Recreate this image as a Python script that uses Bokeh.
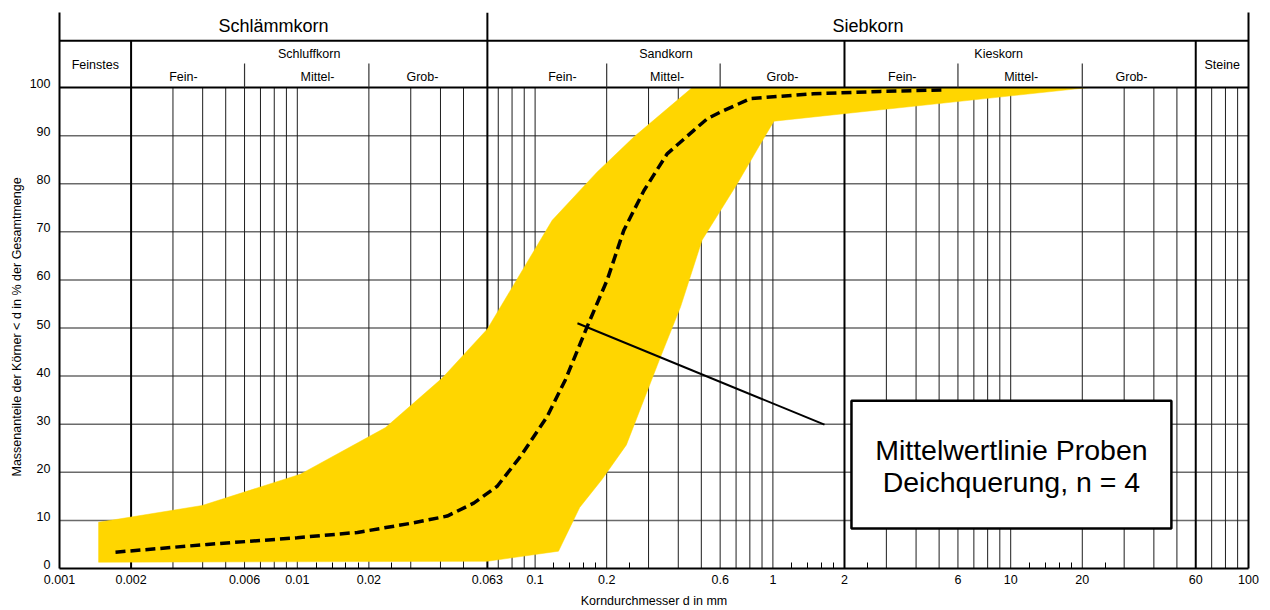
from bokeh.plotting import figure
from bokeh.models import Range1d, LinearAxis, LogAxis, FixedTicker, Title
from bokeh.core.properties import value
from bokeh.embed import file_html
from bokeh.resources import INLINE

FONT_NAME = "Liberation Sans"
FONT = value(FONT_NAME)

# ---- data ----
# grain diameter d [mm] and passing percentage [%]
mean_d = [0.00172, 0.00418, 0.0100, 0.0179, 0.0309, 0.0427, 0.0552, 0.0693, 0.0868,
          0.1124, 0.134, 0.1656, 0.201, 0.236, 0.287, 0.359, 0.465, 0.529, 0.602,
          0.805, 1.48, 2.83, 5.15]
mean_p = [3.4, 5.0, 6.4, 7.5, 9.5, 10.9, 13.6, 17.1, 23.3,
          31.6, 39.2, 50.3, 60.0, 70.3, 78.6, 86.2, 91.1, 93.5, 94.9,
          97.7, 98.7, 99.2, 99.5]

band_upper_d = [0.00146, 0.00398, 0.0103, 0.0235, 0.0407, 0.063, 0.118, 0.182, 0.26, 0.458, 21.3]
band_upper_p = [9.6, 13.1, 19.6, 29.3, 39.6, 49.8, 72.4, 82.4, 89.7, 100.0, 100.0]
band_lower_d = [0.00146, 0.063, 0.1254, 0.154, 0.191, 0.242, 0.337, 0.409, 0.504, 0.708, 0.887, 1.01, 21.3]
band_lower_p = [1.3, 1.5, 3.6, 12.7, 18.5, 25.7, 44.0, 54.4, 68.3, 80.0, 88.3, 93.0, 100.0]

x_tick_vals = [0.001, 0.002, 0.006, 0.01, 0.02, 0.063, 0.1, 0.2, 0.6, 1, 2, 6, 10, 20, 60, 100]
x_tick_labels = ["0.001", "0.002", "0.006", "0.01", "0.02", "0.063", "0.1", "0.2", "0.6",
                 "1", "2", "6", "10", "20", "60", "100"]
x_minor = [0.012, 0.014, 0.016, 0.018, 0.025, 0.12, 0.14, 0.16, 0.18, 0.25,
           1.2, 1.4, 1.6, 1.8, 2.5, 12, 14, 16, 18, 25]
y_ticks = [0, 10, 20, 30, 40, 50, 60, 70, 80, 90, 100]

grid_thin = [0.003, 0.004, 0.005, 0.006, 0.007, 0.008, 0.009, 0.01, 0.02, 0.03, 0.04, 0.05,
             0.07, 0.08, 0.09, 0.1, 0.2, 0.3, 0.4, 0.5, 0.6, 0.7, 0.8, 0.9, 1,
             3, 4, 5, 6, 7, 8, 9, 10, 20, 30, 40, 50, 70, 80, 90]
grid_thick = [0.002, 0.063, 2, 60]
sub_dividers = [0.006, 0.02, 0.2, 0.6, 6, 20]
row2_dividers = [0.002, 2, 60]

top1_labels = ["Schlämmkorn", "Siebkorn"]
top1_x = [0.00794, 2.51]
top2_labels = ["Schluffkorn", "Sandkorn", "Kieskorn"]
top2_x = [0.01122, 0.355, 8.9]
side_labels = ["Feinstes", "Steine"]
side_x = [0.001414, 77.5]
sub_labels = ["Fein-", "Mittel-", "Grob-", "Fein-", "Mittel-", "Grob-", "Fein-", "Mittel-", "Grob-"]
sub_x = [0.00332, 0.01216, 0.0336, 0.1303, 0.359, 1.097, 3.50, 11.07, 32.2]

Y_TOP = 115.6
Y_ROW = 109.75
Y_SUB = 105.0

p = figure(width=1262, height=610, x_axis_type="log",
           x_range=Range1d(0.001, 100), y_range=Range1d(0, Y_TOP),
           output_backend="svg", toolbar_location=None,
           x_axis_location=None, y_axis_location=None,
           min_border_left=59, min_border_right=14, min_border_top=12, min_border_bottom=41)
p.grid.visible = False
p.outline_line_color = None
p.background_fill_color = "white"
p.border_fill_color = "white"

# ---- axes ----
off = 0.83
p.extra_y_ranges = {"lab": Range1d(-off, Y_TOP - off)}
yax = LinearAxis(y_range_name="lab", ticker=FixedTicker(ticks=y_ticks),
                 major_label_text_font=FONT_NAME, major_label_text_font_size="12.5px",
                 major_label_text_color="black", major_label_standoff=9,
                 major_tick_out=0, major_tick_in=0, minor_tick_out=0, minor_tick_in=0,
                 axis_line_color="black", axis_line_width=2)
p.add_layout(yax, "left")

# y-axis title, placed along the 0..100 part of the axis
p.add_layout(Title(text="Massenanteile der Körner < d in % der Gesamtmenge",
                   align="left", offset=92, standoff=6,
                   text_font=FONT_NAME, text_font_size="12.5px",
                   text_font_style="normal", text_color="black"), "left")

xax = LogAxis(ticker=FixedTicker(ticks=x_tick_vals, minor_ticks=x_minor),
              major_label_overrides=dict(zip(x_tick_vals, x_tick_labels)),
              axis_label="Korndurchmesser d in mm",
              axis_label_text_font=FONT_NAME, axis_label_text_font_size="12.5px",
              axis_label_text_font_style="normal", axis_label_text_color="black",
              axis_label_standoff=7,
              major_label_text_font=FONT_NAME, major_label_text_font_size="12.5px",
              major_label_text_color="black", major_label_standoff=6,
              major_tick_out=0, major_tick_in=0, minor_tick_out=0, minor_tick_in=6,
              minor_tick_line_color="black", minor_tick_line_width=1,
              axis_line_color="black", axis_line_width=2)
p.add_layout(xax, "below")

rax = LinearAxis(ticker=FixedTicker(ticks=[]), major_label_text_font_size="0px",
                 major_tick_out=0, major_tick_in=0, minor_tick_out=0, minor_tick_in=0,
                 axis_line_color="black", axis_line_width=2)
p.add_layout(rax, "right")

# ---- grid ----
hvals = y_ticks[1:-1]
p.segment(x0=[0.001] * len(hvals), x1=[100] * len(hvals), y0=hvals, y1=hvals,
          line_color="#6a6a6a", line_width=1.5)
p.segment(x0=grid_thin, x1=grid_thin, y0=[0] * len(grid_thin), y1=[100] * len(grid_thin),
          line_color="#1e1e1e", line_width=1)
p.segment(x0=grid_thick, x1=grid_thick, y0=[0] * len(grid_thick), y1=[100] * len(grid_thick),
          line_color="black", line_width=2)

# ---- band and mean line ----
p.patch(band_upper_d + band_lower_d[::-1], band_upper_p + band_lower_p[::-1],
        fill_color="#FFD600", line_color="#FFD600", line_width=0.5)
p.line(mean_d, mean_p, line_color="black", line_width=3.5, line_dash="10 5")

# ---- header frame ----
p.segment(x0=[0.001, 0.001], x1=[100, 100], y0=[100, Y_ROW], y1=[100, Y_ROW],
          line_color="black", line_width=2)
p.segment(x0=row2_dividers, x1=row2_dividers, y0=[100] * 3, y1=[Y_ROW] * 3,
          line_color="black", line_width=2)
p.segment(x0=[0.063], x1=[0.063], y0=[100], y1=[Y_TOP], line_color="black", line_width=2)
p.segment(x0=sub_dividers, x1=sub_dividers, y0=[100] * len(sub_dividers), y1=[Y_SUB] * len(sub_dividers),
          line_color="#333333", line_width=1.2)

p.text(x=top1_x, y=[112.7] * 2, text=top1_labels, text_font=FONT, text_font_size="18px",
       text_align="center", text_baseline="middle", text_color="black")
p.text(x=top2_x, y=[107.05] * 3, text=top2_labels, text_font=FONT, text_font_size="12.5px",
       text_align="center", text_baseline="middle", text_color="black")
p.text(x=side_x, y=[104.6] * 2, text=side_labels, text_font=FONT, text_font_size="12.5px",
       text_align="center", text_baseline="middle", text_color="black")
p.text(x=sub_x, y=[102.1] * len(sub_x), text=sub_labels, text_font=FONT, text_font_size="12.5px",
       text_align="center", text_baseline="middle", text_color="black")

# ---- annotation ----
p.line([0.1507, 1.648], [51.0, 29.9], line_color="black", line_width=2)
p.quad(left=[2.14], right=[47.4], bottom=[8.3], top=[34.9],
       fill_color="white", line_color="black", line_width=2.5)
p.text(x=[10.07, 10.07], y=[24.6, 18.0],
       text=["Mittelwertlinie Proben", "Deichquerung, n = 4"],
       text_font=FONT, text_font_size="28.5px", text_align="center",
       text_baseline="alphabetic", text_color="black")

open("out.html", "w").write(file_html(p, INLINE))
